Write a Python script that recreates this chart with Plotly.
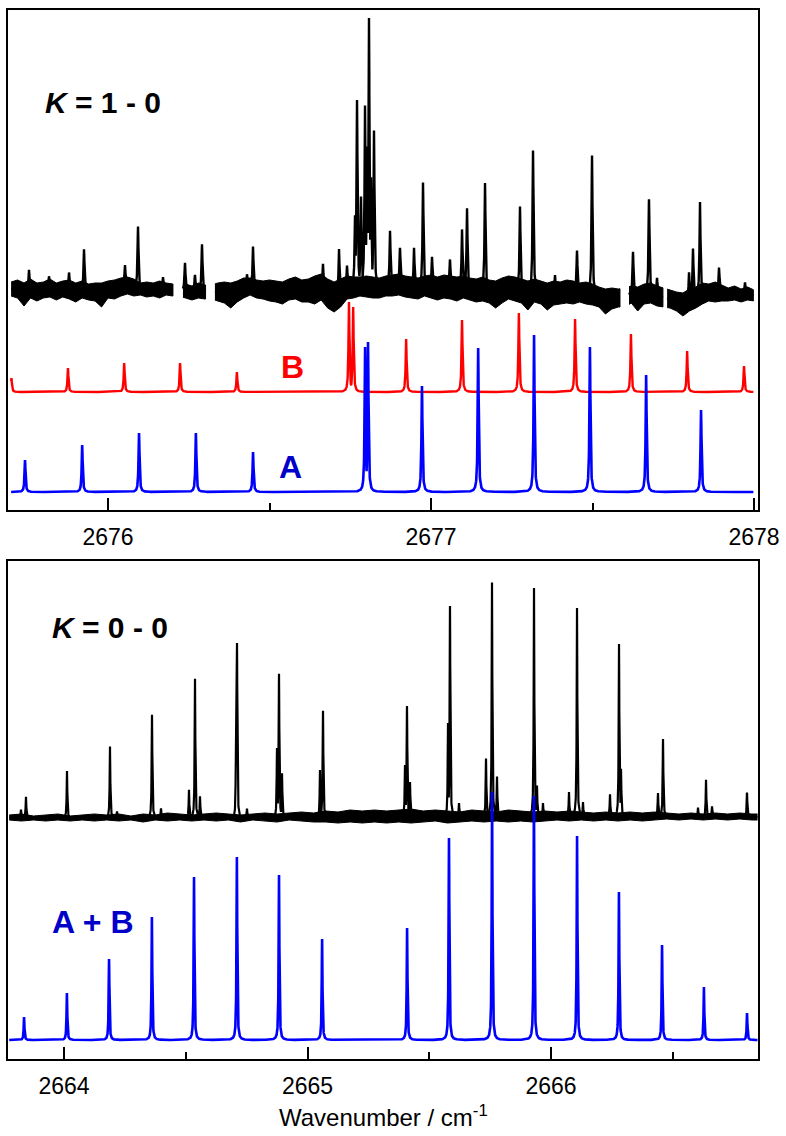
import numpy as np
import plotly.graph_objects as go

W, H = 786, 1136

# ---------------- K = 1 - 0 sub-band (upper panel) ----------------
# simulated component A: line positions (cm-1) and peak intensities (a.u.)
k1_a_pos = [2675.743, 2675.920, 2676.096, 2676.272, 2676.449, 2676.796, 2676.805,
            2676.972, 2677.146, 2677.319, 2677.492, 2677.666, 2677.836]
k1_a_int = [32, 47, 59, 59, 40, 145, 150, 106, 144, 157, 145, 117, 82]

# simulated component B
k1_b_pos = [2675.701, 2675.876, 2676.050, 2676.223, 2676.399, 2676.746, 2676.759,
            2676.923, 2677.096, 2677.272, 2677.446, 2677.619, 2677.793, 2677.969]
k1_b_int = [14, 24, 29, 29, 20, 90, 85, 53, 72, 79, 73, 58, 41, 26]

# observed lines
k1_obs_pos = [2675.7554, 2675.8173, 2675.8793, 2675.9257, 2676.0526, 2676.0929,
              2676.1703, 2676.2384, 2676.2693, 2676.2910, 2676.4303, 2676.4489,
              2676.6656, 2676.7152, 2676.7399, 2676.7647, 2676.7709, 2676.7833,
              2676.7957, 2676.8019, 2676.8080, 2676.8142, 2676.8235, 2676.8731,
              2676.9040, 2676.9474, 2676.9752, 2677.0031, 2677.0588, 2677.0960,
              2677.1115, 2677.1672, 2677.2755, 2677.3158, 2677.3839, 2677.4520,
              2677.4985, 2677.6254, 2677.6749, 2677.6997, 2677.7988, 2677.8111,
              2677.8328, 2677.8916, 2677.9721]
k1_obs_int = [20, 12, 17, 41, 21, 62, 12, 28, 17, 47, 13, 41,
              25, 45, 22, 72, 187, 90, 181, 140, 269, 110, 157, 55,
              37, 40, 104, 30, 28, 58, 80, 107, 84, 141, 18, 42,
              139, 44, 94, 18, 28, 50, 93, 25, 12]

# observed noise envelope, sampled every 0.02 cm-1 from 2675.70
k1_env_start, k1_env_step = 2675.70, 0.02
k1_env_upper = [228, 230, 227, 231, 227, 228, 231, 227, 229, 230, 227, 229, 226, 227, 227, 229,
                230, 232, 233, 231, 227, 228, 227, 229, 227, 226, 226, 226, 224, 227, 225, 225,
                227, 228, 227, 229, 232, 232, 230, 229, 230, 229, 228, 231, 233, 230, 231, 234,
                236, 231, 228, 231, 234, 233, 233, 234, 233, 232, 234, 235, 236, 234, 233, 232,
                234, 235, 233, 235, 234, 233, 234, 232, 231, 233, 230, 229, 232, 234, 233, 231,
                229, 231, 229, 227, 229, 228, 230, 229, 227, 228, 226, 223, 221, 222, 221, 222,
                224, 223, 226, 227, 224, 222, 220, 218, 217, 221, 223, 227, 226, 228, 225, 222,
                224, 221, 223, 220]
k1_env_lower = [214, 212, 204, 212, 209, 212, 213, 210, 213, 211, 208, 212, 210, 209, 203, 212,
                211, 214, 216, 214, 215, 213, 214, 212, 215, 214, 214, 212, 210, 212, 211, 211,
                209, 207, 202, 208, 212, 215, 212, 211, 209, 208, 206, 210, 211, 208, 208, 206,
                210, 202, 198, 203, 211, 212, 214, 213, 212, 212, 214, 214, 215, 213, 212, 211,
                214, 212, 210, 212, 211, 209, 212, 210, 208, 209, 207, 202, 207, 211, 209, 207,
                200, 208, 206, 200, 205, 206, 207, 206, 208, 206, 205, 203, 196, 201, 203, 203,
                207, 199, 206, 207, 204, 203, 202, 199, 194, 199, 202, 206, 209, 208, 209, 209,
                210, 208, 210, 209]
# recorded scan segments (cm-1); the spectrum has no data between them
k1_segments = [(2675.700, 2676.201), (2676.232, 2676.302), (2676.331, 2677.585),
               (2677.613, 2677.718), (2677.731, 2677.998)]

# ---------------- K = 0 - 0 sub-band (lower panel) ----------------
# simulated A + B
k0_sim_pos = [2663.836, 2664.012, 2664.185, 2664.361, 2664.534, 2664.710, 2664.883,
              2665.060, 2665.409, 2665.581, 2665.758, 2665.930, 2666.107, 2666.279,
              2666.456, 2666.628, 2666.805]
k0_sim_int = [23, 47, 81, 123, 163, 183, 165, 101, 112, 202, 248, 244, 204, 148, 95, 53, 27]

# observed lines
k0_obs_pos = [2663.8234, 2663.8439, 2664.0123, 2664.1889, 2664.2177, 2664.3614, 2664.3984,
              2664.5133, 2664.5380, 2664.5585, 2664.7064, 2664.7105, 2664.7515, 2664.8747,
              2664.8830, 2664.8953, 2665.0513, 2665.0637, 2665.4004, 2665.4086, 2665.4209,
              2665.5770, 2665.5852, 2665.6222, 2665.7331, 2665.7577, 2665.7782, 2665.9302,
              2665.9425, 2665.9671, 2666.0739, 2666.1068, 2666.1314, 2666.2423, 2666.2793,
              2666.2875, 2666.4394, 2666.4600, 2666.6037, 2666.6366, 2666.6612, 2666.8049]
k0_obs_int = [8, 21, 47, 71, 6, 103, 9, 28, 139, 21, 76, 175, 9, 70,
              144, 44, 47, 106, 51, 110, 34, 94, 211, 14, 58, 234, 40, 229,
              31, 13, 24, 208, 14, 22, 173, 48, 23, 77, 9, 37, 10, 24]

k0_env_start, k0_env_step = 2663.775, 0.05
k0_env_upper = [244, 245, 243, 244, 245, 243, 244, 245, 244, 245, 243, 245, 244, 246, 245, 244,
                245, 246, 245, 244, 245, 246, 245, 246, 247, 246, 248, 247, 249, 248, 249, 248,
                249, 250, 248, 249, 248, 247, 249, 248, 247, 249, 248, 247, 248, 247, 248, 247,
                246, 247, 246, 247, 246, 247, 246, 245, 246, 245, 246, 245, 246, 245, 245]
k0_env_lower = [239, 238, 239, 238, 239, 238, 239, 238, 239, 238, 239, 237, 239, 238, 239, 238,
                239, 238, 239, 237, 239, 238, 237, 239, 238, 237, 237, 236, 237, 236, 237, 236,
                237, 236, 237, 238, 236, 237, 238, 237, 238, 237, 238, 237, 238, 239, 238, 239,
                238, 239, 238, 239, 238, 239, 240, 239, 240, 239, 240, 239, 240, 239, 239]

# vertical offsets of the stacked traces
K1_B_BASE, K1_A_BASE = 118, 18
K0_SIM_BASE = 19

BLACK, RED, BLUE, TEXT_BLUE = "#000000", "#ff0000", "#0000ff", "#0000c8"
FONT = "Liberation Sans, Arial, sans-serif"


def lorentz(x, pos, amp, hwhm):
    x = np.asarray(x, dtype=float)[:, None]
    p = np.asarray(pos, dtype=float)[None, :]
    a = np.asarray(amp, dtype=float)[None, :]
    return (a * hwhm ** 2 / ((x - p) ** 2 + hwhm ** 2)).max(axis=1)


def grid(x0, x1, pos, step=0.0004):
    g = np.arange(x0, x1 + step / 2, step)
    extra = [p for p in pos if x0 <= p <= x1]
    return np.union1d(g, extra)


def env_arrays(start, step, upper, lower):
    xs = start + step * np.arange(len(upper))
    return xs, np.array(upper, float), np.array(lower, float)


fig = go.Figure()

# ---- upper panel: observed trace ----
ex, eu, el = env_arrays(k1_env_start, k1_env_step, k1_env_upper, k1_env_lower)
ec = (eu + el) / 2
for a, b in k1_segments:
    m = (ex > a) & (ex < b)
    sx = np.concatenate([[a], ex[m], [b]])
    su = np.concatenate([[np.interp(a, ex, eu)], eu[m], [np.interp(b, ex, eu)]])
    sl = np.concatenate([[np.interp(a, ex, el)], el[m], [np.interp(b, ex, el)]])
    fig.add_trace(go.Scatter(
        x=np.concatenate([sx, sx[::-1]]), y=np.concatenate([su, sl[::-1]]),
        mode="lines", fill="toself", fillcolor=BLACK,
        line=dict(color=BLACK, width=1), hoverinfo="skip", showlegend=False,
        xaxis="x", yaxis="y"))
    gx = grid(a, b, k1_obs_pos, 0.0003)
    gy = np.interp(gx, ex, ec) + lorentz(gx, k1_obs_pos, k1_obs_int, 0.0018)
    fig.add_trace(go.Scatter(x=gx, y=gy, mode="lines", line=dict(color=BLACK, width=2.4),
                             hoverinfo="skip", showlegend=False, xaxis="x", yaxis="y"))

# ---- upper panel: simulated B and A ----
gx = grid(2675.700, 2677.998, k1_b_pos)
fig.add_trace(go.Scatter(x=gx, y=K1_B_BASE + lorentz(gx, k1_b_pos, k1_b_int, 0.0018),
                         mode="lines", line=dict(color=RED, width=2.4),
                         hoverinfo="skip", showlegend=False, xaxis="x", yaxis="y"))
gx = grid(2675.700, 2677.998, k1_a_pos)
fig.add_trace(go.Scatter(x=gx, y=K1_A_BASE + lorentz(gx, k1_a_pos, k1_a_int, 0.0018),
                         mode="lines", line=dict(color=BLUE, width=2.6),
                         hoverinfo="skip", showlegend=False, xaxis="x", yaxis="y"))

# ---- lower panel: observed trace ----
ex, eu, el = env_arrays(k0_env_start, k0_env_step, k0_env_upper, k0_env_lower)
ec = (eu + el) / 2
fig.add_trace(go.Scatter(
    x=np.concatenate([ex, ex[::-1]]), y=np.concatenate([eu, el[::-1]]),
    mode="lines", fill="toself", fillcolor=BLACK, line=dict(color=BLACK, width=1),
    hoverinfo="skip", showlegend=False, xaxis="x2", yaxis="y2"))
gx = grid(2663.775, 2666.875, k0_obs_pos)
gy = np.interp(gx, ex, ec) + lorentz(gx, k0_obs_pos, k0_obs_int, 0.0016)
fig.add_trace(go.Scatter(x=gx, y=gy, mode="lines", line=dict(color=BLACK, width=2.2),
                         hoverinfo="skip", showlegend=False, xaxis="x2", yaxis="y2"))

# ---- lower panel: simulated A + B ----
gx = grid(2663.775, 2666.875, k0_sim_pos)
fig.add_trace(go.Scatter(x=gx, y=K0_SIM_BASE + lorentz(gx, k0_sim_pos, k0_sim_int, 0.0018),
                         mode="lines", line=dict(color=BLUE, width=2.6),
                         hoverinfo="skip", showlegend=False, xaxis="x2", yaxis="y2"))


def px_x(px):
    return px / W


def px_y(py):
    return 1 - py / H


frame = dict(showline=True, linecolor="black", linewidth=1.5, mirror=True,
             showgrid=False, zeroline=False, automargin=False)
xcommon = dict(frame, ticks="inside", ticklen=12, tickwidth=1.5, tickcolor="black",
               dtick=1, ticklabelstandoff=6,
               minor=dict(dtick=0.5, ticks="inside", ticklen=7, tickwidth=1.5,
                          tickcolor="black", showgrid=False),
               tickfont=dict(family=FONT, size=23, color="black"))
ycommon = dict(frame, ticks="", showticklabels=False, fixedrange=True)

fig.update_layout(
    width=W, height=H, autosize=False, margin=dict(l=0, r=0, t=0, b=0, pad=0),
    paper_bgcolor="white", plot_bgcolor="white", showlegend=False,
    xaxis=dict(xcommon, domain=[px_x(8.3), px_x(757.5)], range=[2675.6913, 2678.0108],
               tick0=2676, anchor="y"),
    yaxis=dict(ycommon, domain=[px_y(510), px_y(10)], range=[0, 500], anchor="x"),
    xaxis2=dict(xcommon, domain=[px_x(8.3), px_x(757.5)], range=[2663.7713, 2666.848],
                tick0=2664, anchor="y2"),
    yaxis2=dict(ycommon, domain=[px_y(1059), px_y(560.5)], range=[0, 498.5], anchor="x2"),
)

ann = [
    dict(text="<b><i>K</i> = 1 - 0</b>", x=px_x(43), y=px_y(103), xanchor="left",
         yanchor="middle", font=dict(family=FONT, size=30, color="black")),
    dict(text="<b><i>K</i> = 0 - 0</b>", x=px_x(50), y=px_y(627), xanchor="left",
         yanchor="middle", font=dict(family=FONT, size=30, color="black")),
    dict(text="<b>B</b>", x=px_x(292), y=px_y(367), xanchor="center", yanchor="middle",
         font=dict(family=FONT, size=32, color=RED)),
    dict(text="<b>A</b>", x=px_x(290), y=px_y(467), xanchor="center", yanchor="middle",
         font=dict(family=FONT, size=32, color=TEXT_BLUE)),
    dict(text="<b>A + B</b>", x=px_x(50), y=px_y(922), xanchor="left", yanchor="middle",
         font=dict(family=FONT, size=32, color=TEXT_BLUE)),
    dict(text="Wavenumber / cm<sup>-1</sup>", x=px_x(383), y=px_y(1116), xanchor="center",
         yanchor="middle", font=dict(family=FONT, size=24, color="black")),
]
for a in ann:
    a.update(xref="paper", yref="paper", showarrow=False)
fig.update_layout(annotations=ann)

fig.write_html("out.html")
